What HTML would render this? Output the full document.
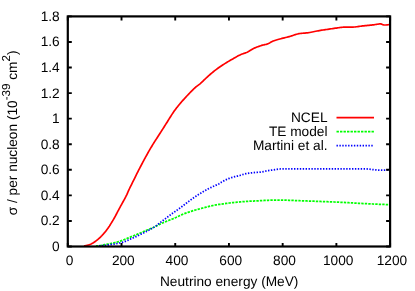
<!DOCTYPE html>
<html><head><meta charset="utf-8"><style>
html,body{margin:0;padding:0;background:#fff;}
svg{display:block;will-change:transform}
text{font-family:"Liberation Sans",sans-serif;font-size:13.7px;fill:#000;text-rendering:geometricPrecision}
</style></head><body>
<svg width="415" height="291" viewBox="0 0 415 291">
<rect width="415" height="291" fill="#fff"/>

<path d="M84.00 246.00 L84.31 245.93 L84.74 245.84 L85.25 245.74 L85.81 245.62 L86.39 245.49 L86.97 245.36 L87.52 245.23 L88.00 245.10 L88.43 244.98 L88.84 244.86 L89.23 244.73 L89.61 244.61 L89.98 244.47 L90.35 244.33 L90.72 244.17 L91.10 244.00 L91.48 243.81 L91.86 243.60 L92.24 243.39 L92.62 243.16 L92.99 242.92 L93.37 242.68 L93.74 242.44 L94.10 242.20 L94.47 241.96 L94.83 241.71 L95.20 241.45 L95.56 241.19 L95.92 240.94 L96.26 240.68 L96.59 240.44 L96.90 240.20 L97.19 239.98 L97.45 239.76 L97.70 239.55 L97.94 239.35 L98.18 239.15 L98.41 238.94 L98.65 238.72 L98.90 238.50 L99.15 238.27 L99.40 238.04 L99.65 237.81 L99.91 237.57 L100.16 237.33 L100.43 237.07 L100.71 236.80 L101.00 236.50 L101.31 236.18 L101.64 235.83 L101.99 235.47 L102.34 235.09 L102.69 234.71 L103.04 234.33 L103.38 233.96 L103.70 233.60 L104.00 233.26 L104.30 232.93 L104.58 232.61 L104.86 232.29 L105.13 231.97 L105.41 231.63 L105.70 231.28 L106.00 230.90 L106.32 230.48 L106.65 230.03 L107.00 229.56 L107.35 229.08 L107.69 228.59 L108.02 228.13 L108.33 227.69 L108.60 227.30 L108.82 226.98 L108.99 226.74 L109.12 226.55 L109.25 226.36 L109.39 226.15 L109.56 225.88 L109.79 225.50 L110.10 225.00 L110.49 224.38 L110.92 223.67 L111.41 222.88 L111.94 222.03 L112.50 221.10 L113.08 220.12 L113.68 219.08 L114.30 218.00 L114.94 216.84 L115.62 215.58 L116.32 214.25 L117.05 212.87 L117.79 211.47 L118.53 210.05 L119.27 208.66 L120.00 207.30 L120.74 205.94 L121.51 204.55 L122.29 203.15 L123.06 201.76 L123.82 200.39 L124.54 199.08 L125.20 197.84 L125.80 196.70 L126.30 195.69 L126.72 194.82 L127.07 194.04 L127.39 193.30 L127.70 192.56 L128.04 191.78 L128.43 190.91 L128.90 189.90 L129.45 188.75 L130.06 187.49 L130.71 186.16 L131.39 184.78 L132.09 183.37 L132.78 181.97 L133.45 180.60 L134.10 179.30 L134.72 178.05 L135.33 176.82 L135.93 175.60 L136.53 174.41 L137.12 173.22 L137.71 172.04 L138.30 170.87 L138.90 169.70 L139.50 168.54 L140.10 167.39 L140.70 166.24 L141.29 165.11 L141.89 163.98 L142.49 162.85 L143.10 161.72 L143.70 160.60 L144.31 159.47 L144.92 158.34 L145.53 157.21 L146.15 156.09 L146.77 154.97 L147.38 153.86 L147.99 152.77 L148.60 151.70 L149.20 150.66 L149.78 149.65 L150.35 148.66 L150.93 147.67 L151.52 146.69 L152.12 145.69 L152.74 144.66 L153.40 143.60 L154.09 142.51 L154.79 141.40 L155.52 140.28 L156.26 139.13 L157.02 137.96 L157.80 136.77 L158.59 135.55 L159.40 134.30 L160.23 133.00 L161.09 131.66 L161.96 130.28 L162.86 128.88 L163.75 127.47 L164.65 126.06 L165.53 124.67 L166.40 123.30 L167.26 121.94 L168.12 120.55 L168.97 119.17 L169.82 117.79 L170.67 116.45 L171.50 115.14 L172.31 113.88 L173.10 112.70 L173.86 111.61 L174.57 110.59 L175.26 109.64 L175.94 108.73 L176.63 107.83 L177.34 106.93 L178.09 105.99 L178.90 105.00 L179.77 103.96 L180.68 102.89 L181.63 101.79 L182.61 100.69 L183.60 99.58 L184.60 98.47 L185.61 97.38 L186.60 96.30 L187.61 95.22 L188.65 94.11 L189.71 93.00 L190.77 91.89 L191.81 90.82 L192.83 89.81 L193.79 88.86 L194.70 88.00 L195.53 87.26 L196.28 86.64 L196.99 86.09 L197.67 85.59 L198.34 85.11 L199.02 84.60 L199.73 84.05 L200.50 83.40 L201.31 82.67 L202.14 81.89 L203.00 81.08 L203.87 80.23 L204.76 79.37 L205.66 78.50 L206.57 77.64 L207.50 76.80 L208.44 75.96 L209.39 75.12 L210.36 74.26 L211.34 73.41 L212.34 72.57 L213.35 71.73 L214.37 70.90 L215.40 70.10 L216.45 69.31 L217.52 68.53 L218.60 67.76 L219.70 67.01 L220.80 66.26 L221.91 65.53 L223.01 64.81 L224.10 64.10 L225.19 63.40 L226.30 62.72 L227.41 62.05 L228.51 61.39 L229.61 60.74 L230.70 60.11 L231.76 59.50 L232.80 58.90 L233.82 58.32 L234.82 57.74 L235.80 57.18 L236.78 56.63 L237.73 56.11 L238.67 55.61 L239.59 55.14 L240.50 54.70 L241.38 54.32 L242.24 53.99 L243.08 53.70 L243.91 53.43 L244.72 53.17 L245.54 52.88 L246.36 52.57 L247.20 52.20 L248.04 51.77 L248.87 51.30 L249.70 50.80 L250.54 50.28 L251.38 49.75 L252.23 49.24 L253.11 48.75 L254.00 48.30 L254.93 47.88 L255.91 47.47 L256.91 47.08 L257.91 46.70 L258.91 46.34 L259.89 46.00 L260.82 45.69 L261.70 45.40 L262.52 45.16 L263.28 44.96 L264.01 44.80 L264.72 44.65 L265.41 44.50 L266.09 44.34 L266.79 44.14 L267.50 43.90 L268.22 43.60 L268.93 43.25 L269.64 42.88 L270.36 42.48 L271.07 42.08 L271.80 41.69 L272.54 41.33 L273.30 41.00 L274.06 40.71 L274.81 40.45 L275.55 40.20 L276.32 39.97 L277.11 39.74 L277.95 39.51 L278.84 39.26 L279.80 39.00 L280.84 38.72 L281.96 38.44 L283.14 38.15 L284.36 37.86 L285.60 37.55 L286.85 37.24 L288.09 36.93 L289.30 36.60 L290.49 36.25 L291.69 35.87 L292.89 35.47 L294.09 35.06 L295.29 34.67 L296.49 34.30 L297.69 33.98 L298.90 33.70 L300.11 33.49 L301.32 33.34 L302.53 33.23 L303.75 33.14 L304.97 33.06 L306.18 32.97 L307.39 32.86 L308.60 32.70 L309.80 32.50 L311.01 32.28 L312.21 32.04 L313.41 31.78 L314.60 31.52 L315.80 31.27 L317.00 31.02 L318.20 30.80 L319.40 30.59 L320.60 30.39 L321.80 30.20 L322.99 30.02 L324.19 29.84 L325.39 29.66 L326.60 29.48 L327.80 29.30 L329.03 29.12 L330.28 28.93 L331.55 28.74 L332.82 28.56 L334.06 28.38 L335.27 28.21 L336.42 28.05 L337.50 27.90 L338.48 27.77 L339.35 27.64 L340.16 27.53 L340.94 27.42 L341.72 27.32 L342.53 27.24 L343.41 27.16 L344.40 27.10 L345.50 27.06 L346.67 27.05 L347.91 27.06 L349.18 27.07 L350.48 27.09 L351.78 27.09 L353.06 27.06 L354.30 27.00 L355.51 26.90 L356.72 26.77 L357.92 26.62 L359.11 26.46 L360.31 26.28 L361.50 26.11 L362.70 25.95 L363.90 25.80 L365.13 25.66 L366.39 25.53 L367.66 25.41 L368.93 25.28 L370.18 25.16 L371.38 25.04 L372.53 24.92 L373.60 24.80 L374.60 24.67 L375.55 24.52 L376.46 24.37 L377.31 24.22 L378.12 24.09 L378.89 23.98 L379.62 23.92 L380.30 23.90 L380.91 23.95 L381.43 24.07 L381.88 24.24 L382.31 24.42 L382.72 24.62 L383.16 24.79 L383.64 24.93 L384.20 25.00 L384.87 25.01 L385.65 24.98 L386.49 24.91 L387.34 24.82 L388.17 24.72 L388.91 24.63 L389.54 24.55 L390.00 24.50" fill="none" stroke="#ff0000" stroke-width="1.7" stroke-linejoin="round"/>
<path d="M96.00 246.00 L96.29 245.97 L96.67 245.95 L97.12 245.91 L97.62 245.88 L98.18 245.83 L98.77 245.77 L99.38 245.69 L100.00 245.60 L100.65 245.49 L101.36 245.35 L102.10 245.20 L102.88 245.04 L103.66 244.88 L104.45 244.71 L105.24 244.55 L106.00 244.40 L106.75 244.26 L107.50 244.13 L108.25 244.00 L109.00 243.87 L109.75 243.74 L110.50 243.60 L111.25 243.46 L112.00 243.30 L112.75 243.14 L113.50 242.97 L114.25 242.79 L115.00 242.61 L115.75 242.42 L116.50 242.23 L117.25 242.02 L118.00 241.80 L118.75 241.57 L119.50 241.33 L120.25 241.07 L121.00 240.81 L121.75 240.54 L122.50 240.27 L123.25 239.99 L124.00 239.70 L124.75 239.41 L125.50 239.10 L126.25 238.79 L127.00 238.47 L127.75 238.15 L128.50 237.83 L129.25 237.51 L130.00 237.20 L130.75 236.90 L131.50 236.60 L132.25 236.30 L133.00 236.00 L133.75 235.70 L134.50 235.40 L135.25 235.10 L136.00 234.80 L136.75 234.49 L137.50 234.18 L138.25 233.87 L139.00 233.56 L139.75 233.25 L140.50 232.93 L141.25 232.62 L142.00 232.30 L142.75 231.98 L143.50 231.65 L144.25 231.33 L145.00 231.00 L145.75 230.67 L146.50 230.35 L147.25 230.02 L148.00 229.70 L148.77 229.38 L149.57 229.04 L150.38 228.71 L151.19 228.38 L151.97 228.06 L152.71 227.75 L153.39 227.46 L154.00 227.20 L154.51 226.97 L154.94 226.77 L155.30 226.59 L155.62 226.42 L155.93 226.26 L156.24 226.09 L156.59 225.91 L157.00 225.70 L157.45 225.47 L157.90 225.23 L158.37 224.98 L158.86 224.72 L159.37 224.45 L159.91 224.17 L160.48 223.89 L161.10 223.60 L161.76 223.30 L162.44 223.00 L163.17 222.68 L163.92 222.36 L164.70 222.03 L165.51 221.70 L166.34 221.35 L167.20 221.00 L168.10 220.64 L169.05 220.26 L170.04 219.88 L171.04 219.49 L172.06 219.10 L173.07 218.70 L174.05 218.30 L175.00 217.90 L175.92 217.49 L176.83 217.06 L177.73 216.63 L178.61 216.19 L179.48 215.77 L180.34 215.35 L181.18 214.96 L182.00 214.60 L182.80 214.27 L183.57 213.97 L184.32 213.69 L185.06 213.42 L185.79 213.16 L186.52 212.91 L187.25 212.66 L188.00 212.40 L188.76 212.14 L189.52 211.88 L190.29 211.62 L191.06 211.36 L191.82 211.11 L192.59 210.87 L193.35 210.63 L194.10 210.40 L194.85 210.18 L195.58 209.97 L196.32 209.77 L197.05 209.57 L197.78 209.38 L198.52 209.19 L199.25 209.00 L200.00 208.80 L200.74 208.60 L201.47 208.41 L202.19 208.21 L202.92 208.02 L203.67 207.82 L204.44 207.62 L205.25 207.41 L206.10 207.20 L207.03 206.97 L208.06 206.72 L209.14 206.45 L210.23 206.19 L211.30 205.93 L212.31 205.69 L213.23 205.48 L214.00 205.30 L214.60 205.16 L215.06 205.07 L215.40 204.99 L215.69 204.94 L215.97 204.89 L216.29 204.84 L216.68 204.78 L217.20 204.70 L217.85 204.60 L218.59 204.49 L219.39 204.38 L220.23 204.26 L221.10 204.14 L221.96 204.02 L222.80 203.91 L223.60 203.80 L224.36 203.69 L225.10 203.59 L225.82 203.49 L226.54 203.39 L227.27 203.29 L227.99 203.19 L228.74 203.09 L229.50 203.00 L230.27 202.91 L231.05 202.82 L231.83 202.73 L232.62 202.64 L233.43 202.56 L234.26 202.47 L235.12 202.39 L236.00 202.30 L236.93 202.21 L237.90 202.12 L238.90 202.03 L239.91 201.93 L240.93 201.84 L241.95 201.76 L242.94 201.68 L243.90 201.60 L244.82 201.53 L245.72 201.47 L246.61 201.41 L247.48 201.35 L248.35 201.30 L249.22 201.25 L250.10 201.20 L251.00 201.15 L251.91 201.10 L252.83 201.06 L253.75 201.01 L254.68 200.97 L255.61 200.93 L256.54 200.89 L257.47 200.85 L258.40 200.80 L259.33 200.75 L260.26 200.70 L261.19 200.65 L262.12 200.60 L263.05 200.54 L263.98 200.49 L264.89 200.45 L265.80 200.40 L266.69 200.36 L267.57 200.31 L268.45 200.27 L269.31 200.23 L270.18 200.19 L271.05 200.15 L271.92 200.12 L272.80 200.10 L273.69 200.08 L274.59 200.08 L275.49 200.07 L276.40 200.07 L277.31 200.08 L278.21 200.09 L279.11 200.09 L280.00 200.10 L280.88 200.11 L281.75 200.11 L282.60 200.12 L283.46 200.13 L284.33 200.14 L285.20 200.16 L286.09 200.18 L287.00 200.20 L287.92 200.23 L288.85 200.26 L289.79 200.29 L290.74 200.33 L291.71 200.37 L292.70 200.41 L293.73 200.46 L294.80 200.50 L295.90 200.55 L297.03 200.59 L298.18 200.64 L299.36 200.69 L300.57 200.75 L301.82 200.80 L303.09 200.85 L304.40 200.90 L305.71 200.95 L307.00 200.99 L308.31 201.04 L309.66 201.08 L311.07 201.13 L312.58 201.18 L314.22 201.24 L316.00 201.30 L317.96 201.37 L320.08 201.45 L322.33 201.53 L324.67 201.61 L327.07 201.70 L329.50 201.80 L331.92 201.90 L334.30 202.00 L336.67 202.11 L339.06 202.23 L341.47 202.35 L343.89 202.48 L346.33 202.61 L348.76 202.74 L351.19 202.87 L353.60 203.00 L356.02 203.13 L358.45 203.26 L360.90 203.39 L363.33 203.52 L365.75 203.65 L368.14 203.77 L370.50 203.89 L372.80 204.00 L375.16 204.11 L377.64 204.21 L380.15 204.32 L382.60 204.41 L384.90 204.50 L386.96 204.58 L388.69 204.65 L390.00 204.70" fill="none" stroke="#00ff00" stroke-width="1.75" stroke-dasharray="2.4 1.1"/>
<path d="M99.00 246.00 L99.36 245.97 L99.80 245.93 L100.33 245.88 L100.93 245.83 L101.60 245.76 L102.34 245.69 L103.14 245.60 L104.00 245.50 L104.96 245.38 L106.05 245.25 L107.23 245.11 L108.46 244.95 L109.70 244.79 L110.91 244.62 L112.06 244.46 L113.10 244.30 L114.05 244.14 L114.94 243.98 L115.79 243.82 L116.60 243.66 L117.38 243.50 L118.13 243.33 L118.87 243.17 L119.60 243.00 L120.32 242.83 L121.02 242.66 L121.69 242.48 L122.35 242.31 L122.98 242.13 L123.58 241.95 L124.16 241.78 L124.70 241.60 L125.21 241.42 L125.68 241.24 L126.13 241.06 L126.54 240.87 L126.94 240.70 L127.31 240.52 L127.66 240.36 L128.00 240.20 L128.28 240.07 L128.50 239.96 L128.67 239.87 L128.83 239.78 L129.01 239.67 L129.25 239.55 L129.57 239.40 L130.00 239.20 L130.56 238.95 L131.22 238.67 L131.96 238.36 L132.75 238.02 L133.57 237.67 L134.41 237.31 L135.22 236.95 L136.00 236.60 L136.75 236.25 L137.50 235.90 L138.25 235.54 L139.00 235.18 L139.75 234.82 L140.50 234.45 L141.25 234.07 L142.00 233.70 L142.75 233.32 L143.50 232.95 L144.25 232.57 L145.00 232.18 L145.75 231.79 L146.50 231.40 L147.25 231.00 L148.00 230.60 L148.77 230.18 L149.57 229.74 L150.38 229.29 L151.19 228.84 L151.97 228.39 L152.71 227.97 L153.39 227.56 L154.00 227.20 L154.51 226.88 L154.94 226.61 L155.30 226.37 L155.62 226.14 L155.93 225.91 L156.24 225.67 L156.59 225.41 L157.00 225.10 L157.45 224.76 L157.90 224.41 L158.37 224.04 L158.86 223.66 L159.37 223.25 L159.91 222.82 L160.48 222.37 L161.10 221.90 L161.78 221.38 L162.52 220.82 L163.31 220.23 L164.12 219.62 L164.93 219.01 L165.73 218.41 L166.50 217.83 L167.20 217.30 L167.86 216.80 L168.49 216.32 L169.10 215.85 L169.68 215.40 L170.24 214.97 L170.78 214.56 L171.30 214.17 L171.80 213.80 L172.24 213.48 L172.61 213.23 L172.94 213.01 L173.25 212.80 L173.58 212.58 L173.97 212.32 L174.43 212.00 L175.00 211.60 L175.70 211.10 L176.51 210.52 L177.39 209.88 L178.32 209.20 L179.28 208.50 L180.23 207.81 L181.15 207.13 L182.00 206.50 L182.80 205.90 L183.57 205.31 L184.32 204.73 L185.06 204.16 L185.79 203.60 L186.52 203.03 L187.25 202.47 L188.00 201.90 L188.76 201.33 L189.52 200.75 L190.29 200.17 L191.06 199.60 L191.82 199.03 L192.59 198.47 L193.35 197.93 L194.10 197.40 L194.85 196.89 L195.58 196.40 L196.32 195.91 L197.05 195.44 L197.78 194.98 L198.52 194.52 L199.25 194.06 L200.00 193.60 L200.75 193.14 L201.52 192.67 L202.28 192.21 L203.05 191.75 L203.82 191.30 L204.58 190.85 L205.35 190.42 L206.10 190.00 L206.85 189.59 L207.58 189.20 L208.31 188.82 L209.04 188.45 L209.77 188.08 L210.51 187.72 L211.25 187.36 L212.00 187.00 L212.78 186.63 L213.61 186.26 L214.45 185.89 L215.29 185.53 L216.11 185.17 L216.88 184.82 L217.59 184.50 L218.20 184.20 L218.69 183.94 L219.06 183.71 L219.36 183.51 L219.61 183.32 L219.87 183.13 L220.15 182.92 L220.52 182.68 L221.00 182.40 L221.60 182.07 L222.27 181.70 L223.01 181.29 L223.79 180.88 L224.60 180.45 L225.42 180.04 L226.22 179.65 L227.00 179.30 L227.76 178.98 L228.52 178.67 L229.28 178.37 L230.05 178.09 L230.82 177.83 L231.58 177.57 L232.34 177.33 L233.10 177.10 L233.85 176.89 L234.61 176.70 L235.36 176.53 L236.11 176.38 L236.85 176.22 L237.60 176.06 L238.35 175.89 L239.10 175.70 L239.85 175.49 L240.60 175.26 L241.35 175.02 L242.10 174.77 L242.85 174.53 L243.60 174.30 L244.35 174.09 L245.10 173.90 L245.85 173.73 L246.60 173.58 L247.35 173.45 L248.09 173.33 L248.84 173.21 L249.59 173.10 L250.35 173.00 L251.10 172.90 L251.87 172.80 L252.65 172.72 L253.45 172.64 L254.24 172.56 L255.02 172.49 L255.78 172.43 L256.51 172.36 L257.20 172.30 L257.84 172.25 L258.42 172.20 L258.97 172.17 L259.51 172.14 L260.04 172.10 L260.59 172.05 L261.17 171.99 L261.80 171.90 L262.49 171.79 L263.21 171.65 L263.97 171.49 L264.74 171.33 L265.53 171.16 L266.30 170.99 L267.06 170.84 L267.80 170.70 L268.51 170.58 L269.20 170.47 L269.88 170.37 L270.55 170.28 L271.22 170.19 L271.90 170.09 L272.59 170.00 L273.30 169.90 L274.03 169.79 L274.79 169.67 L275.57 169.55 L276.34 169.43 L277.12 169.32 L277.87 169.21 L278.60 169.12 L279.30 169.05 L279.88 169.00 L280.32 168.96 L280.70 168.94 L281.08 168.92 L281.54 168.91 L282.15 168.91 L282.98 168.91 L284.10 168.90 L285.46 168.89 L286.96 168.89 L288.63 168.89 L290.48 168.89 L292.52 168.89 L294.77 168.90 L297.26 168.90 L300.00 168.90 L303.11 168.90 L306.63 168.90 L310.44 168.90 L314.43 168.90 L318.50 168.90 L322.52 168.90 L326.39 168.90 L330.00 168.90 L333.49 168.90 L337.02 168.90 L340.53 168.90 L343.94 168.90 L347.16 168.90 L350.13 168.90 L352.77 168.90 L355.00 168.90 L356.75 168.90 L358.06 168.90 L359.03 168.90 L359.75 168.90 L360.31 168.90 L360.81 168.90 L361.34 168.90 L362.00 168.90 L362.70 168.90 L363.33 168.89 L363.90 168.88 L364.45 168.87 L365.01 168.87 L365.60 168.88 L366.25 168.91 L367.00 168.95 L367.84 169.02 L368.76 169.12 L369.72 169.23 L370.73 169.35 L371.76 169.48 L372.79 169.60 L373.81 169.71 L374.80 169.80 L375.77 169.88 L376.74 169.95 L377.70 170.02 L378.67 170.08 L379.63 170.14 L380.59 170.17 L381.55 170.20 L382.50 170.20 L383.50 170.18 L384.56 170.13 L385.66 170.06 L386.73 169.97 L387.75 169.89 L388.66 169.81 L389.42 169.74 L390.00 169.70" fill="none" stroke="#0000ff" stroke-width="1.75" stroke-dasharray="1.4 1.5"/>
<path d="M67.80 246.50 v-3.5 M67.80 16.40 v4" stroke="#000" stroke-width="1.9" fill="none"/>
<text x="69.60" y="265.4" text-anchor="middle">0</text>
<path d="M121.52 246.50 v-3.5 M121.52 16.40 v4" stroke="#000" stroke-width="1.9" fill="none"/>
<text x="123.32" y="265.4" text-anchor="middle">200</text>
<path d="M175.23 246.50 v-3.5 M175.23 16.40 v4" stroke="#000" stroke-width="1.9" fill="none"/>
<text x="177.03" y="265.4" text-anchor="middle">400</text>
<path d="M228.95 246.50 v-3.5 M228.95 16.40 v4" stroke="#000" stroke-width="1.9" fill="none"/>
<text x="230.75" y="265.4" text-anchor="middle">600</text>
<path d="M282.67 246.50 v-3.5 M282.67 16.40 v4" stroke="#000" stroke-width="1.9" fill="none"/>
<text x="284.47" y="265.4" text-anchor="middle">800</text>
<path d="M336.38 246.50 v-3.5 M336.38 16.40 v4" stroke="#000" stroke-width="1.9" fill="none"/>
<text x="338.18" y="265.4" text-anchor="middle">1000</text>
<path d="M390.10 246.50 v-3.5 M390.10 16.40 v4" stroke="#000" stroke-width="1.9" fill="none"/>
<text x="391.90" y="265.4" text-anchor="middle">1200</text>
<path d="M67.80 246.50 h4 M390.10 246.50 h-4" stroke="#000" stroke-width="1.9" fill="none"/>
<text x="59.7" y="250.90" text-anchor="end">0</text>
<path d="M67.80 220.93 h4 M390.10 220.93 h-4" stroke="#000" stroke-width="1.9" fill="none"/>
<text x="59.7" y="225.33" text-anchor="end">0.2</text>
<path d="M67.80 195.37 h4 M390.10 195.37 h-4" stroke="#000" stroke-width="1.9" fill="none"/>
<text x="59.7" y="199.77" text-anchor="end">0.4</text>
<path d="M67.80 169.80 h4 M390.10 169.80 h-4" stroke="#000" stroke-width="1.9" fill="none"/>
<text x="59.7" y="174.20" text-anchor="end">0.6</text>
<path d="M67.80 144.23 h4 M390.10 144.23 h-4" stroke="#000" stroke-width="1.9" fill="none"/>
<text x="59.7" y="148.63" text-anchor="end">0.8</text>
<path d="M67.80 118.67 h4 M390.10 118.67 h-4" stroke="#000" stroke-width="1.9" fill="none"/>
<text x="59.7" y="123.07" text-anchor="end">1</text>
<path d="M67.80 93.10 h4 M390.10 93.10 h-4" stroke="#000" stroke-width="1.9" fill="none"/>
<text x="59.7" y="97.50" text-anchor="end">1.2</text>
<path d="M67.80 67.53 h4 M390.10 67.53 h-4" stroke="#000" stroke-width="1.9" fill="none"/>
<text x="59.7" y="71.93" text-anchor="end">1.4</text>
<path d="M67.80 41.97 h4 M390.10 41.97 h-4" stroke="#000" stroke-width="1.9" fill="none"/>
<text x="59.7" y="46.37" text-anchor="end">1.6</text>
<path d="M67.80 16.40 h4 M390.10 16.40 h-4" stroke="#000" stroke-width="1.9" fill="none"/>
<text x="59.7" y="20.80" text-anchor="end">1.8</text>
<rect x="67.80" y="16.40" width="322.30" height="230.10" fill="none" stroke="#000" stroke-width="2.2"/>
<text x="229.2" y="285.6" text-anchor="middle">Neutrino energy (MeV)</text>
<text transform="translate(16.6,132.9) rotate(-90)" text-anchor="middle">σ / per nucleon (10<tspan font-size="11.60" dy="-6.6">-39</tspan><tspan dy="6.6"> cm</tspan><tspan font-size="11.60" dy="-6.6">2</tspan><tspan dy="6.6">)</tspan></text>
<text x="327.50" y="122.00" text-anchor="end">NCEL</text>
<path d="M336.5 117.60 H374" stroke="#ff0000" stroke-width="1.75"/>
<text x="327.50" y="136.00" text-anchor="end">TE model</text>
<path d="M336.5 131.60 H374" stroke="#00ff00" stroke-width="1.75" stroke-dasharray="2.4 1.1"/>
<text x="327.50" y="150.00" text-anchor="end">Martini et al.</text>
<path d="M336.5 145.60 H374" stroke="#0000ff" stroke-width="1.75" stroke-dasharray="1.4 1.5"/>
</svg></body></html>
